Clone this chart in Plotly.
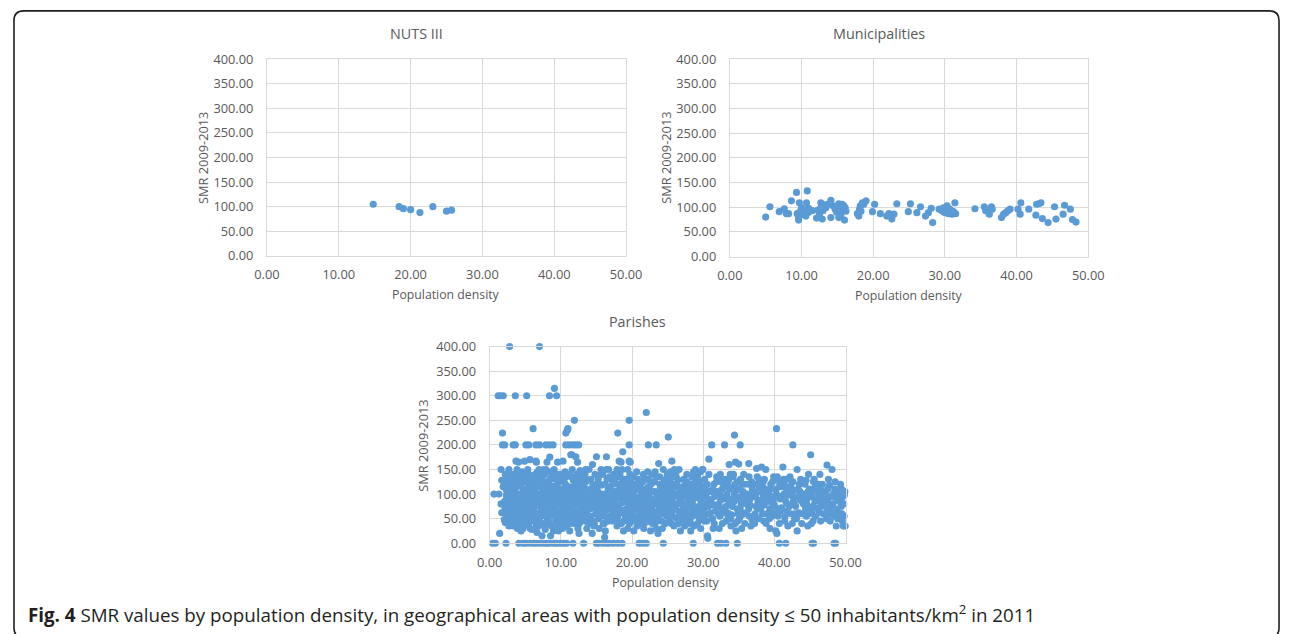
import plotly.graph_objects as go

W, H = 1296, 634

# ---------------- data ----------------
nuts_x = [14.8, 18.4, 19.0, 20.0, 21.3, 23.1, 25.0, 25.7]
nuts_y = [105, 100, 96, 94, 88, 100, 91, 93]

muni_points = [
    (5.0, 80), (5.6, 101), (6.9, 91), (7.6, 97), (7.9, 87), (8.2, 87), (8.6, 113), (9.3, 130),
    (9.4, 87), (9.7, 109), (9.6, 79), (9.6, 74), (9.9, 93), (10.0, 99), (10.2, 86), (10.6, 82),
    (10.7, 109), (10.8, 133), (10.9, 89), (11.3, 93), (11.5, 93), (12.1, 78), (12.3, 94), (12.7, 109),
    (12.7, 99), (12.9, 76), (13.0, 93), (13.4, 99), (13.7, 106), (14.1, 114), (14.1, 79), (14.4, 103),
    (14.7, 96), (15.2, 107), (15.2, 79), (15.4, 93), (15.7, 106), (15.9, 103), (16.0, 74), (16.1, 99),
    (17.8, 87), (18.0, 82), (18.1, 96), (18.2, 103), (18.5, 109), (18.7, 106), (19.0, 113), (19.9, 91),
    (20.2, 106), (21.0, 87), (21.9, 82), (22.2, 87), (22.6, 76), (22.9, 86), (23.3, 107), (24.9, 91),
    (25.2, 107), (26.1, 89), (26.6, 101), (27.3, 82), (27.7, 89), (28.1, 98), (28.3, 69), (29.2, 96),
    (29.6, 93), (29.8, 99), (30.1, 89), (30.3, 103), (30.5, 87), (30.7, 96), (31.0, 86), (31.2, 91),
    (31.4, 109), (31.5, 87), (34.2, 97), (35.5, 101), (35.7, 93), (36.2, 86), (36.5, 101), (36.6, 96),
    (37.9, 79), (38.2, 86), (38.5, 89), (38.8, 93), (39.1, 96), (40.2, 96), (40.5, 86), (40.6, 109),
    (41.7, 96), (42.7, 84), (42.8, 106), (43.1, 107), (43.4, 109), (43.6, 77), (44.4, 69), (45.3, 101),
    (45.5, 76), (46.5, 86), (46.7, 104), (47.5, 96), (47.8, 75), (48.3, 70),
    (9.8, 85), (10.4, 95), (11.0, 98), (12.5, 85), (13.2, 105), (14.9, 90), (15.5, 85), (16.2, 92),
    (18.3, 92), (29.9, 90), (30.4, 95), (30.9, 92),
]

parish_high = [
    (2.8, 400), (7.0, 400), (1.2, 300), (1.5, 300), (1.9, 300), (3.6, 300), (5.2, 300), (8.4, 300),
    (9.4, 300), (9.1, 315), (22.0, 266), (11.9, 250), (19.6, 250), (6.1, 233), (11.0, 233), (40.3, 233),
    (1.8, 224), (10.7, 224), (18.0, 224), (25.1, 216), (34.4, 220), (10.9, 230),
    (1.8, 200), (2.1, 200), (3.3, 200), (3.6, 200), (5.1, 200), (5.5, 200), (6.5, 200), (7.0, 200),
    (7.9, 200), (8.4, 200), (8.9, 200), (10.7, 200), (11.2, 200), (11.7, 200), (12.1, 200), (12.5, 200),
    (19.6, 200), (22.3, 200), (23.4, 200), (31.2, 200), (33.0, 200), (35.2, 200), (42.6, 200),
    (45.1, 180), (18.7, 186), (15.0, 176), (16.4, 176), (12.1, 176), (11.4, 180),
    (3.7, 167), (4.9, 167), (6.5, 167), (10.3, 167), (18.2, 167), (19.6, 167), (25.6, 167), (36.4, 162),
    (1.6, 150), (2.7, 150), (7.9, 150), (13.5, 150), (16.7, 150), (17.9, 150), (19.4, 150), (28.9, 150),
    (29.9, 150), (43.2, 150), (48.1, 150), (47.4, 159), (37.5, 152), (35.0, 161), (30.8, 171),
    (0.6, 100), (1.3, 100), (1.4, 20), (2.4, 130), (1.7, 128),
]

parish_zero_x = [
    0.4, 0.8, 2.3, 4.1, 4.7, 5.1, 5.7, 6.2, 6.6, 7.1, 7.6, 8.0, 8.4, 9.0, 9.4, 9.9, 10.4, 10.8,
    11.7, 13.2, 15.0, 15.3, 15.9, 16.4, 16.8, 17.4, 18.0, 18.6, 21.0, 21.5, 22.0, 24.4, 28.6, 32.0,
    32.5, 33.2, 34.8, 40.7, 41.6, 45.3, 45.5, 48.4, 48.6,
]

parish_cloud_a = [
    (1.6, 80), (1.9, 115), (1.7, 62),
    (2.1, 85), (2.3, 60), (2.5, 120), (2.2, 140), (2.7, 35), (2.4, 100), (2.8, 75), (2.6, 50),
    (2.9, 130), (2.3, 110), (2.75, 92),
    (3.1, 65), (3.3, 105), (3.5, 45), (3.2, 125), (3.7, 85), (3.9, 30), (3.4, 140), (3.6, 70),
    (3.8, 115), (3.15, 95), (3.55, 55), (3.85, 150), (3.45, 80), (3.95, 100),
    (4.1, 40), (4.3, 90), (4.5, 130), (4.2, 60), (4.7, 110), (4.9, 75), (4.4, 25), (4.6, 145),
    (4.8, 50), (4.25, 120), (4.65, 85), (4.95, 100), (4.35, 68), (4.85, 135), (4.05, 165), (4.55, 35),
    (5.1, 55), (5.3, 95), (5.5, 140), (5.2, 80), (5.7, 30), (5.9, 115), (5.4, 65), (5.6, 105),
    (5.8, 45), (5.25, 125), (5.65, 170), (5.95, 85), (5.35, 150), (5.75, 72), (5.05, 110), (5.45, 38),
    (6.1, 90), (6.3, 50), (6.5, 125), (6.2, 70), (6.7, 100), (6.9, 35), (6.4, 140), (6.6, 60),
    (6.8, 115), (6.25, 82), (6.65, 22), (6.95, 150), (6.35, 105), (6.75, 45), (6.05, 130), (6.55, 165),
    (7.1, 75), (7.3, 115), (7.5, 40), (7.2, 135), (7.7, 95), (7.9, 60), (7.4, 85), (7.6, 150),
    (7.8, 28), (7.25, 55), (7.65, 120), (7.95, 105), (7.35, 15), (7.75, 140), (7.05, 100), (7.45, 68),
    (8.1, 50), (8.3, 100), (8.5, 130), (8.2, 80), (8.7, 35), (8.9, 115), (8.4, 60), (8.6, 145),
    (8.8, 90), (8.25, 125), (8.65, 70), (8.95, 25), (8.35, 110), (8.75, 55), (8.05, 165), (8.55, 15),
    (8.45, 175),
    (9.1, 95), (9.3, 45), (9.5, 120), (9.2, 70), (9.7, 140), (9.9, 85), (9.4, 30), (9.6, 105),
    (9.8, 60), (9.25, 130), (9.65, 25), (9.95, 110), (9.35, 80), (9.75, 50), (9.05, 150), (9.55, 165),
    (10.1, 65), (10.3, 110), (10.5, 40), (10.2, 130), (10.7, 90), (10.9, 55), (10.4, 75), (10.6, 145),
    (10.8, 100), (10.25, 30), (10.65, 120), (10.95, 70), (10.35, 95), (10.75, 35), (10.05, 140), (10.55, 85),
    (11.1, 50), (11.3, 95), (11.5, 135), (11.2, 75), (11.7, 115), (11.9, 40), (11.4, 60), (11.6, 150),
    (11.8, 85), (11.25, 25), (11.65, 105), (11.95, 130), (11.35, 110), (11.75, 65), (11.05, 90), (11.55, 180),
    (12.1, 80), (12.3, 45), (12.5, 120), (12.2, 100), (12.7, 60), (12.9, 135), (12.4, 30), (12.6, 90),
    (12.8, 110), (12.25, 140), (12.65, 70), (12.95, 50), (12.35, 165), (12.75, 125), (12.05, 55), (12.55, 20),
]

parish_cloud_a2 = [
    (2.05, 48), (2.15, 72), (2.35, 96), (2.45, 128), (2.55, 66), (2.65, 104), (2.85, 55), (2.95, 88),
    (2.2, 42), (2.6, 138), (2.4, 78), (2.8, 115),
    (3.05, 40), (3.25, 58), (3.35, 88), (3.5, 110), (3.65, 132), (3.75, 48), (3.9, 75), (3.0, 118),
    (3.3, 35), (3.6, 92), (3.8, 62), (3.95, 128),
    (4.0, 52), (4.15, 100), (4.3, 118), (4.45, 80), (4.5, 55), (4.6, 95), (4.75, 65), (4.9, 125),
    (4.2, 140), (4.4, 45), (4.7, 30), (4.85, 88),
    (5.0, 70), (5.15, 130), (5.2, 40), (5.35, 88), (5.5, 62), (5.55, 118), (5.7, 95), (5.85, 135),
    (5.3, 110), (5.6, 50), (5.8, 78), (5.9, 28),
    (6.0, 58), (6.15, 112), (6.3, 75), (6.45, 95), (6.5, 40), (6.6, 130), (6.75, 88), (6.85, 60),
    (6.2, 120), (6.4, 30), (6.7, 145), (6.9, 78),
    (7.0, 45), (7.15, 90), (7.3, 128), (7.45, 105), (7.5, 78), (7.6, 58), (7.75, 112), (7.85, 38),
    (7.2, 65), (7.4, 145), (7.7, 82), (7.9, 125),
    (8.0, 95), (8.15, 40), (8.3, 72), (8.45, 88), (8.5, 118), (8.65, 100), (8.75, 140), (8.85, 65),
    (8.2, 108), (8.4, 42), (8.7, 80), (8.9, 135),
    (9.0, 72), (9.15, 112), (9.3, 100), (9.45, 58), (9.5, 88), (9.6, 40), (9.75, 125), (9.85, 95),
    (9.2, 135), (9.4, 65), (9.7, 78), (9.9, 45),
    (10.0, 92), (10.15, 48), (10.3, 80), (10.45, 125), (10.5, 62), (10.6, 108), (10.75, 135), (10.85, 78),
    (10.2, 100), (10.4, 55), (10.7, 42), (10.9, 115),
    (11.0, 115), (11.15, 68), (11.3, 40), (11.45, 88), (11.5, 100), (11.6, 72), (11.75, 128), (11.85, 52),
    (11.2, 140), (11.4, 82), (11.7, 95), (11.9, 110),
    (12.0, 98), (12.15, 118), (12.3, 65), (12.45, 80), (12.5, 105), (12.6, 40), (12.75, 95), (12.85, 72),
    (12.2, 58), (12.4, 128), (12.7, 148), (12.9, 88),
]

parish_cloud_b = [
    (13.1, 95), (13.3, 55), (13.5, 125), (13.2, 75), (13.7, 105), (13.9, 40), (13.4, 140), (13.6, 65),
    (13.8, 85), (13.25, 115), (13.65, 30), (13.95, 150),
    (14.1, 70), (14.3, 110), (14.5, 45), (14.2, 130), (14.7, 90), (14.9, 60), (14.4, 20), (14.6, 100),
    (14.8, 140), (14.25, 80), (14.65, 35), (14.95, 120), (14.45, 160),
    (15.1, 85), (15.3, 50), (15.5, 120), (15.2, 105), (15.7, 65), (15.9, 140), (15.4, 30), (15.6, 95),
    (15.8, 75), (15.25, 130), (15.65, 150), (15.95, 40),
    (16.1, 60), (16.3, 100), (16.5, 130), (16.2, 80), (16.7, 45), (16.9, 115), (16.4, 150), (16.6, 70),
    (16.8, 90), (16.25, 25), (16.65, 110), (16.95, 55), (16.15, 12),
    (17.1, 90), (17.3, 125), (17.5, 55), (17.2, 70), (17.7, 105), (17.9, 35), (17.4, 140), (17.6, 80),
    (17.8, 120), (17.25, 45), (17.65, 95), (17.95, 60),
    (18.1, 75), (18.3, 110), (18.5, 40), (18.2, 135), (18.7, 85), (18.9, 60), (18.4, 100), (18.6, 150),
    (18.8, 25), (18.25, 120), (18.65, 65), (18.95, 95), (18.45, 165),
    (19.1, 50), (19.3, 95), (19.5, 120), (19.2, 70), (19.7, 140), (19.9, 85), (19.4, 30), (19.6, 105),
    (19.8, 60), (19.25, 130), (19.65, 40), (19.95, 110), (19.75, 165),
    (20.1, 80), (20.3, 120), (20.5, 55), (20.2, 100), (20.7, 35), (20.9, 130), (20.4, 70), (20.6, 90),
    (20.8, 110), (20.25, 25), (20.65, 145), (20.95, 65),
    (21.1, 95), (21.3, 60), (21.5, 125), (21.2, 40), (21.7, 85), (21.9, 110), (21.4, 75), (21.6, 140),
    (21.8, 50), (21.25, 105), (21.65, 30), (21.95, 90),
    (22.1, 70), (22.3, 115), (22.5, 45), (22.2, 130), (22.7, 90), (22.9, 60), (22.4, 100), (22.6, 25),
    (22.8, 140), (22.25, 80), (22.65, 120), (22.95, 55),
    (23.1, 85), (23.3, 50), (23.5, 135), (23.2, 105), (23.7, 65), (23.9, 120), (23.4, 30), (23.6, 95),
    (23.8, 75), (23.25, 145), (23.65, 20), (23.95, 110), (23.75, 162),
    (24.1, 60), (24.3, 100), (24.5, 125), (24.2, 80), (24.7, 40), (24.9, 115), (24.4, 150), (24.6, 70),
    (24.8, 90), (24.25, 30), (24.65, 105), (24.95, 140),
    (25.1, 95), (25.3, 130), (25.5, 55), (25.2, 75), (25.7, 110), (25.9, 35), (25.4, 145), (25.6, 85),
    (25.8, 120), (25.25, 45), (25.65, 65), (25.95, 150),
    (26.1, 75), (26.3, 115), (26.5, 40), (26.2, 135), (26.7, 90), (26.9, 60), (26.4, 100), (26.6, 150),
    (26.8, 25), (26.25, 120), (26.65, 65), (26.95, 105),
    (27.1, 50), (27.3, 95), (27.5, 120), (27.2, 70), (27.7, 140), (27.9, 85), (27.4, 35), (27.6, 105),
    (27.8, 60), (27.25, 130), (27.65, 45), (27.95, 110),
    (28.1, 80), (28.3, 120), (28.5, 55), (28.2, 100), (28.7, 35), (28.9, 130), (28.4, 70), (28.6, 90),
    (28.8, 110), (28.25, 25), (28.65, 145), (28.95, 65),
    (29.1, 95), (29.3, 60), (29.5, 125), (29.2, 40), (29.7, 85), (29.9, 110), (29.4, 75), (29.6, 145),
    (29.8, 50), (29.25, 105), (29.65, 30), (29.95, 150),
]

parish_cloud_b2 = [
    (13.0, 62), (13.2, 100), (13.35, 45), (13.45, 88), (13.55, 110), (13.7, 72), (13.8, 128), (13.9, 95), (13.15, 135),
    (14.0, 95), (14.15, 55), (14.35, 88), (14.5, 118), (14.55, 72), (14.7, 40), (14.85, 105), (14.9, 80), (14.2, 50),
    (15.0, 110), (15.15, 68), (15.3, 92), (15.45, 58), (15.55, 80), (15.7, 118), (15.85, 100), (15.9, 55), (15.35, 138),
    (16.0, 85), (16.2, 120), (16.35, 68), (16.45, 95), (16.55, 50), (16.75, 78), (16.85, 135), (16.9, 102), (16.1, 40),
    (17.0, 110), (17.15, 58), (17.35, 85), (17.45, 100), (17.55, 130), (17.7, 68), (17.85, 92), (17.9, 48), (17.2, 78),
    (18.0, 55), (18.15, 92), (18.35, 68), (18.5, 122), (18.55, 82), (18.75, 105), (18.85, 45), (18.9, 130), (18.3, 140),
    (19.0, 88), (19.15, 115), (19.35, 58), (19.45, 82), (19.55, 95), (19.7, 48), (19.85, 125), (19.9, 72), (19.2, 100),
    (20.0, 58), (20.15, 95), (20.35, 108), (20.45, 45), (20.55, 75), (20.75, 120), (20.85, 88), (20.9, 50), (20.2, 135),
    (21.0, 75), (21.15, 118), (21.35, 50), (21.45, 92), (21.55, 100), (21.75, 65), (21.85, 130), (21.9, 42), (21.2, 80),
    (22.0, 100), (22.15, 55), (22.35, 88), (22.45, 65), (22.55, 108), (22.75, 75), (22.85, 125), (22.9, 40), (22.2, 145),
    (23.0, 65), (23.15, 125), (23.35, 80), (23.45, 100), (23.55, 45), (23.75, 88), (23.85, 58), (23.9, 135), (23.2, 40),
    (24.0, 90), (24.15, 45), (24.35, 112), (24.45, 68), (24.55, 95), (24.75, 130), (24.85, 55), (24.9, 78), (24.2, 120),
    (25.0, 62), (25.15, 110), (25.35, 88), (25.45, 100), (25.55, 40), (25.75, 72), (25.85, 135), (25.9, 95), (25.2, 125),
    (26.0, 98), (26.15, 52), (26.35, 80), (26.45, 128), (26.55, 65), (26.75, 110), (26.85, 42), (26.9, 88), (26.2, 145),
    (27.0, 80), (27.15, 115), (27.35, 58), (27.45, 100), (27.55, 72), (27.75, 125), (27.85, 95), (27.9, 40), (27.2, 52),
    (28.0, 95), (28.15, 50), (28.35, 88), (28.45, 135), (28.55, 78), (28.75, 60), (28.85, 120), (28.9, 100), (28.2, 42),
    (29.0, 72), (29.15, 130), (29.35, 92), (29.45, 50), (29.55, 100), (29.75, 115), (29.85, 65), (29.9, 80), (29.2, 135),
]

parish_cloud_c = [
    (30.1, 70), (30.3, 115), (30.5, 45), (30.2, 130), (30.7, 90), (30.9, 60), (30.4, 100), (30.6, 15),
    (30.8, 140), (30.25, 80), (30.65, 10),
    (31.1, 85), (31.3, 50), (31.5, 120), (31.2, 105), (31.7, 65), (31.9, 135), (31.4, 30), (31.6, 95),
    (31.8, 75),
    (32.1, 60), (32.3, 100), (32.5, 125), (32.2, 80), (32.7, 40), (32.9, 115), (32.4, 140), (32.6, 70),
    (32.8, 90), (32.25, 30),
    (33.1, 95), (33.3, 130), (33.5, 55), (33.2, 75), (33.7, 110), (33.9, 35), (33.4, 120), (33.6, 85),
    (33.8, 140), (33.25, 45), (33.65, 160),
    (34.1, 75), (34.3, 115), (34.5, 40), (34.2, 135), (34.7, 90), (34.9, 60), (34.4, 100), (34.6, 25),
    (34.8, 125), (34.25, 140), (34.55, 165),
    (35.1, 50), (35.3, 95), (35.5, 120), (35.2, 70), (35.7, 140), (35.9, 85), (35.4, 30), (35.6, 105),
    (35.8, 60), (35.25, 130),
    (36.1, 80), (36.3, 120), (36.5, 55), (36.2, 100), (36.7, 35), (36.9, 110), (36.4, 70), (36.6, 90),
    (36.8, 125),
    (37.1, 95), (37.3, 60), (37.5, 120), (37.2, 40), (37.7, 85), (37.9, 110), (37.4, 75), (37.6, 135),
    (37.8, 50),
    (38.1, 70), (38.3, 115), (38.5, 45), (38.2, 155), (38.7, 90), (38.9, 60), (38.4, 100), (38.6, 130),
    (38.8, 150), (38.25, 80),
    (39.1, 85), (39.3, 50), (39.5, 120), (39.2, 105), (39.7, 65), (39.9, 135), (39.4, 30), (39.6, 95),
    (39.8, 75),
    (40.1, 60), (40.3, 100), (40.5, 130), (40.2, 25), (40.7, 40), (40.9, 115), (40.4, 135), (40.6, 70),
    (40.8, 90), (40.35, 20),
    (41.1, 95), (41.3, 130), (41.5, 55), (41.2, 155), (41.7, 110), (41.9, 35), (41.4, 120), (41.6, 85),
    (41.8, 65),
    (42.1, 75), (42.3, 115), (42.5, 40), (42.2, 135), (42.7, 90), (42.9, 60), (42.4, 100), (42.6, 125),
    (42.8, 80),
    (43.1, 50), (43.3, 95), (43.5, 120), (43.2, 25), (43.7, 130), (43.9, 85), (43.6, 105), (43.8, 60),
    (44.1, 80), (44.3, 120), (44.5, 55), (44.2, 100), (44.7, 35), (44.9, 110), (44.4, 70), (44.6, 90),
    (44.8, 140),
    (45.1, 95), (45.3, 60), (45.5, 125), (45.2, 40), (45.7, 85), (45.9, 110), (45.4, 75), (45.6, 130),
    (45.8, 55),
    (46.1, 70), (46.3, 100), (46.5, 45), (46.2, 120), (46.7, 90), (46.9, 60), (46.4, 140), (46.6, 80),
    (46.8, 105),
    (47.1, 85), (47.3, 50), (47.5, 110), (47.2, 100), (47.7, 65), (47.9, 95), (47.6, 130), (47.8, 75),
    (48.1, 60), (48.3, 100), (48.5, 110), (48.2, 80), (48.7, 35), (48.9, 50), (48.6, 70), (48.8, 90),
    (49.1, 85), (49.3, 120), (49.5, 60), (49.2, 100), (49.7, 35), (49.9, 105), (49.4, 75), (49.6, 95),
    (49.8, 55), (49.95, 35),
]

parish_cloud_c2 = [
    (30.0, 95), (30.35, 58), (30.55, 120), (30.75, 75), (30.85, 105), (30.15, 45),
    (31.0, 62), (31.35, 110), (31.45, 78), (31.55, 40), (31.75, 100), (31.85, 125),
    (32.0, 105), (32.35, 55), (32.45, 88), (32.65, 110), (32.75, 62), (32.85, 130),
    (33.0, 70), (33.35, 100), (33.45, 62), (33.55, 128), (33.75, 90), (33.85, 50),
    (34.0, 58), (34.35, 85), (34.45, 120), (34.65, 108), (34.75, 70), (34.85, 45),
    (35.0, 110), (35.35, 80), (35.45, 58), (35.65, 90), (35.75, 120), (35.85, 40),
    (36.0, 62), (36.35, 90), (36.45, 135), (36.55, 78), (36.75, 100), (36.85, 48),
    (37.0, 120), (37.35, 98), (37.45, 52), (37.65, 70), (37.75, 105), (37.85, 130),
    (38.0, 88), (38.35, 60), (38.45, 125), (38.55, 78), (38.75, 110), (38.85, 40),
    (39.0, 100), (39.35, 70), (39.45, 110), (39.65, 55), (39.75, 125), (39.85, 88),
    (40.0, 78), (40.25, 110), (40.45, 95), (40.55, 55), (40.75, 120), (40.85, 65),
    (41.0, 72), (41.35, 100), (41.45, 45), (41.65, 130), (41.75, 80), (41.85, 112),
    (42.0, 98), (42.35, 60), (42.45, 125), (42.55, 82), (42.75, 108), (42.85, 50),
    (43.0, 75), (43.35, 110), (43.45, 62), (43.65, 88), (43.75, 100), (43.85, 40),
    (44.0, 95), (44.35, 58), (44.45, 128), (44.55, 80), (44.75, 105), (44.85, 65),
    (45.0, 68), (45.35, 100), (45.45, 45), (45.65, 112), (45.75, 72), (45.85, 90),
    (46.0, 88), (46.35, 62), (46.45, 110), (46.55, 75), (46.75, 120), (46.85, 95),
    (47.0, 100), (47.35, 72), (47.45, 88), (47.55, 58), (47.75, 118), (47.85, 45),
    (48.0, 78), (48.35, 95), (48.45, 55), (48.55, 125), (48.75, 65), (48.85, 108),
    (49.0, 62), (49.35, 88), (49.45, 110), (49.55, 45), (49.75, 80), (49.85, 98),
]

x_ticks = [0, 10, 20, 30, 40, 50]
y_ticks = [0, 50, 100, 150, 200, 250, 300, 350, 400]

# ---------------- styling ----------------
BLUE = "#5B9BD5"
GRID = "#D9D9D9"
TXT = "#595959"
FONT = "Open Sans"

# The photographed page comes out slightly reduced and offset; positions below are
# given in target-picture pixels and converted to figure coordinates.
SX, OX, SY, OY = 0.98, 12.4, 0.9715, 9.4
K = 1.0 / 0.976  # size compensation


def fxp(r):
    return r / SX - OX


def fyp(r):
    return r / SY - OY


def px(r):
    return fxp(r) / W


def py(r):
    return 1 - fyp(r) / H


panels = [
    # name, plot-area box (left, right, top, bottom), title pos, x-title pos, y-title pos
    ("NUTS III", (266.7, 626.7, 58.3, 255.0), (416.7, 32.7), (446.7, 294.0), (202.0, 156.7)),
    ("Municipalities", (730.7, 1090.0, 58.3, 255.7), (880.7, 33.0), (910.0, 295.0), (666.0, 156.7)),
    ("Parishes", (490.0, 846.7, 345.7, 542.3), (637.7, 320.7), (666.7, 581.7), (423.0, 445.0)),
]

par_all = (parish_cloud_a + parish_cloud_a2 + parish_cloud_b + parish_cloud_b2
           + parish_cloud_c + parish_cloud_c2 + parish_high)
series = [
    (nuts_x, nuts_y),
    ([p[0] for p in muni_points], [p[1] for p in muni_points]),
    ([p[0] for p in par_all] + parish_zero_x, [p[1] for p in par_all] + [0] * len(parish_zero_x)),
]

fig = go.Figure()
annotations = []
layout_axes = {}

for i, ((name, box, tpos, xtpos, ytpos), (sx, sy)) in enumerate(zip(panels, series), start=1):
    sfx = "" if i == 1 else str(i)
    fig.add_trace(go.Scatter(
        x=sx, y=sy, mode="markers", xaxis="x" + sfx, yaxis="y" + sfx,
        marker=dict(color=BLUE, size=7 * K, line=dict(width=0)),
        cliponaxis=False, showlegend=False, hoverinfo="skip",
    ))
    l, r, t, b = box
    layout_axes["xaxis" + sfx] = dict(
        domain=[px(l), px(r)], anchor="y" + sfx, range=[0, 50],
        tickvals=x_ticks, tickformat=".2f",
        showgrid=True, gridcolor=GRID, gridwidth=1, zeroline=False,
        showline=True, linecolor=GRID, linewidth=1, mirror=True,
        ticks="", ticklabelstandoff=7,
        tickfont=dict(family=FONT, size=12.5 * K, color=TXT),
        fixedrange=True,
    )
    layout_axes["yaxis" + sfx] = dict(
        domain=[py(b), py(t)], anchor="x" + sfx, range=[0, 400],
        tickvals=y_ticks, tickformat=".2f",
        showgrid=True, gridcolor=GRID, gridwidth=1, zeroline=False,
        showline=True, linecolor=GRID, linewidth=1, mirror=True,
        ticks="", ticklabelstandoff=10,
        tickfont=dict(family=FONT, size=12.5 * K, color=TXT),
        fixedrange=True,
    )
    annotations.append(dict(text=name, x=px(tpos[0]), y=py(tpos[1]), xref="paper", yref="paper",
                            xanchor="center", yanchor="middle", showarrow=False,
                            font=dict(family=FONT, size=14 * K, color=TXT)))
    annotations.append(dict(text="Population density", x=px(xtpos[0]), y=py(xtpos[1]),
                            xref="paper", yref="paper", xanchor="center", yanchor="middle",
                            showarrow=False, font=dict(family=FONT, size=12 * K, color=TXT)))
    annotations.append(dict(text="SMR 2009-2013", x=px(ytpos[0]), y=py(ytpos[1]),
                            xref="paper", yref="paper", xanchor="center", yanchor="middle",
                            textangle=-90, showarrow=False,
                            font=dict(family=FONT, size=12.5 * K, color=TXT)))

annotations.append(dict(
    text="<b>Fig. 4</b> SMR values by population density, in geographical areas with population "
         "density \u2264 50 inhabitants/km<sup>2</sup> in 2011",
    x=px(25), y=py(613), xref="paper", yref="paper", xanchor="left", yanchor="middle",
    showarrow=False, font=dict(family=FONT, size=18.3 * K, color="#231F20"),
))

# rounded frame (kept inside the drawable page)
x0 = max(fxp(8), 1.0)
x1 = min(fxp(1294), W - 1.0)
y0 = fyp(10)
y1 = H + 12
rr = 10
rx, ry = rr / W, rr / H
X0, X1, Y0, Y1 = x0 / W, x1 / W, 1 - y0 / H, 1 - y1 / H
path = (f"M {X0 + rx},{Y0} L {X1 - rx},{Y0} Q {X1},{Y0} {X1},{Y0 - ry} "
        f"L {X1},{Y1 + ry} Q {X1},{Y1} {X1 - rx},{Y1} L {X0 + rx},{Y1} "
        f"Q {X0},{Y1} {X0},{Y1 + ry} L {X0},{Y0 - ry} Q {X0},{Y0} {X0 + rx},{Y0} Z")

fig.update_layout(
    width=W, height=H,
    margin=dict(l=0, r=0, t=0, b=0),
    paper_bgcolor="white", plot_bgcolor="white",
    annotations=annotations,
    shapes=[dict(type="path", path=path, xref="paper", yref="paper",
                 line=dict(color="#231F20", width=1.6), layer="above")],
    hovermode=False,
    **layout_axes,
)

fig.write_html(
    "out.html",
    config={"displayModeBar": False},
    post_script="document.body.style.margin='0';document.body.style.overflow='hidden';",
)
